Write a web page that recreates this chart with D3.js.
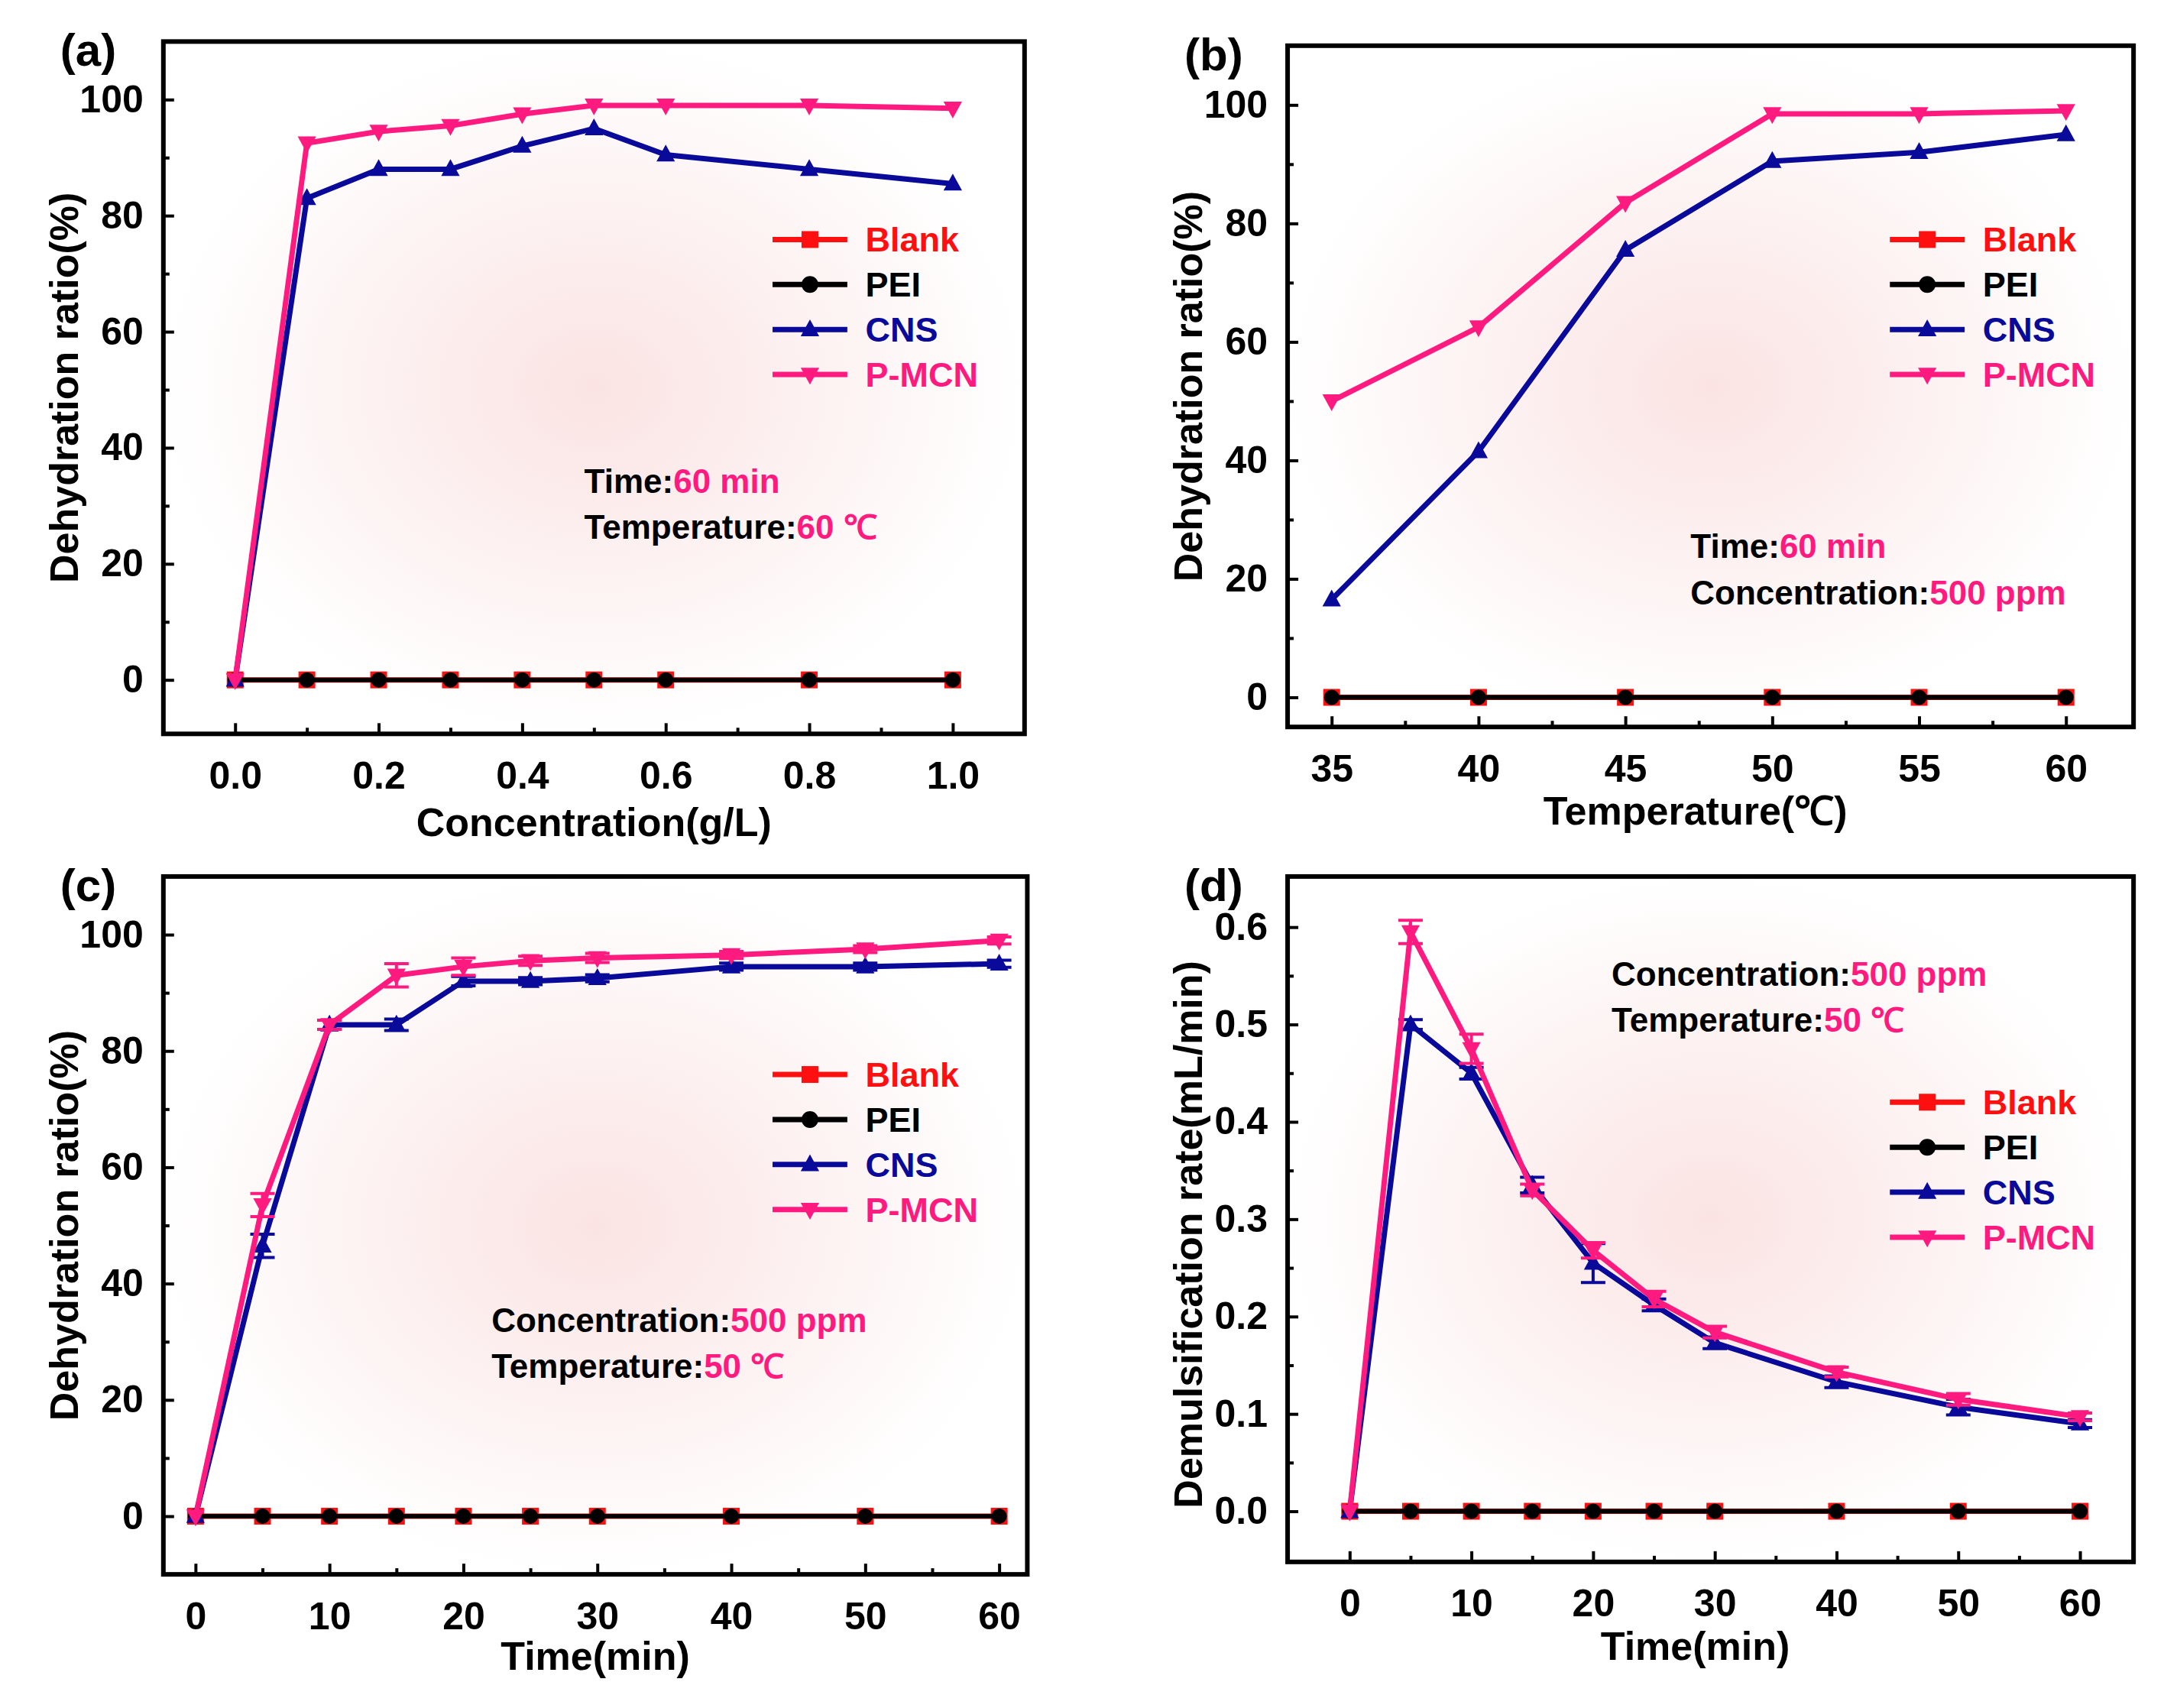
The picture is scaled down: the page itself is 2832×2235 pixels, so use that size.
<!DOCTYPE html><html><head><meta charset="utf-8">
<script src="https://cdn.jsdelivr.net/npm/d3@7"></script>
<style>body{margin:0;background:#fff}text{font-family:"Liberation Sans",Arial,sans-serif;font-weight:bold}</style></head><body>
<svg id="c" width="2832" height="2235"></svg>
<script>
const seriesNames=["Blank","PEI","CNS","P-MCN"];
const colors=["#ff1010","#000000","#0a0a9a","#ff1a80"];
const aX=[0,0.1,0.2,0.3,0.4,0.5,0.6,0.8,1.0];
const aCNS=[0,83,88,88,92,95,90.5,88,85.5];
const aPMCN=[0,92.5,94.5,95.5,97.5,99,99,99,98.5];
const aTicksX=[0,0.2,0.4,0.6,0.8,1.0];
const bX=[35,40,45,50,55,60];
const bCNS=[16.5,41.5,75.5,90.5,92,95];
const bPMCN=[50,62.5,83.5,98.5,98.5,99];
const cX=[0,5,10,15,20,25,30,40,50,60];
const cCNS=[0,46.5,84.5,84.5,92,92,92.5,94.5,94.5,95];
const cPMCN=[0,53.5,84.5,93,94.5,95.5,96,96.5,97.5,99];
const cErrC=[0,2,0.8,1,0.8,0.6,0.6,0.6,0.6,0.6];
const cErrP=[0,2,0.8,2,1.5,0.8,0.8,0.6,0.6,0.6];
const dX=[0,5,10,15,20,25,30,40,50,60];
const dCNS=[0,0.5,0.45,0.335,0.255,0.212,0.173,0.133,0.107,0.09];
const dPMCN=[0,0.595,0.475,0.33,0.268,0.218,0.184,0.143,0.115,0.097];
const dErrC=[0,0.005,0.006,0.008,0.02,0.006,0.006,0.006,0.008,0.004];
const dErrP=[0,0.012,0.015,0.006,0.008,0.008,0.006,0.005,0.006,0.004];
const S=2832/1563;
const svg=d3.select("#c");
const defs=svg.append("defs");
const rg=defs.append("radialGradient").attr("id","bg");
rg.append("stop").attr("offset","0%").attr("stop-color","#fbe3e3");
rg.append("stop").attr("offset","100%").attr("stop-color","#ffffff");
const panels=[
 {lab:"(a)",L:118,R:740,T:30,B:530,xd:[-0.1,1.1],yd:[-9.3,110],xs:aX,cns:aCNS,pm:aPMCN,xt:aTicksX,xm:[0.1,0.3,0.5,0.7,0.9],yt:[0,20,40,60,80,100],ym:[10,30,50,70,90],fmt:d3.format(".1f"),yf:d=>d,
  xl:"Concentration(g/L)",yl:"Dehydration ratio(%)",legX:558,legY:173,ann:[["Time:","60 min"],["Temperature:","60 ℃"]],annX:422,annY:347},
 {lab:"(b)",L:930,R:1541,T:33,B:525,xd:[33.5,62.3],yd:[-5,110],xs:bX,cns:bCNS,pm:bPMCN,xt:bX,xm:[37.5,42.5,47.5,52.5,57.5],yt:[0,20,40,60,80,100],ym:[10,30,50,70,90],fmt:d=>d,yf:d=>d,
  xl:"Temperature(℃)",yl:"Dehydration ratio(%)",legX:1365,legY:173,ann:[["Time:","60 min"],["Concentration:","500 ppm"]],annX:1221,annY:394},
 {lab:"(c)",L:118,R:742,T:633,B:1137,xd:[-2.4,62.1],yd:[-10,110],xs:cX,cns:cCNS,pm:cPMCN,ec:cErrC,ep:cErrP,xt:[0,10,20,30,40,50,60],xm:[5,15,25,35,45,55],yt:[0,20,40,60,80,100],ym:[10,30,50,70,90],fmt:d=>d,yf:d=>d,
  xl:"Time(min)",yl:"Dehydration ratio(%)",legX:558,legY:776,ann:[["Concentration:","500 ppm"],["Temperature:","50 ℃"]],annX:355,annY:953},
 {lab:"(d)",L:930,R:1541,T:633,B:1128,xd:[-5.1,64.4],yd:[-0.052,0.652],xs:dX,cns:dCNS,pm:dPMCN,ec:dErrC,ep:dErrP,xt:[0,10,20,30,40,50,60],xm:[5,15,25,35,45,55],yt:[0,0.1,0.2,0.3,0.4,0.5,0.6],ym:[0.05,0.15,0.25,0.35,0.45,0.55],fmt:d=>d,yf:d3.format(".1f"),
  xl:"Time(min)",yl:"Demulsification rate(mL/min)",legX:1365,legY:796,ann:[["Concentration:","500 ppm"],["Temperature:","50 ℃"]],annX:1164,annY:703}
];
function marker(g,i,x,y,r){
 if(i==0) g.append("rect").attr("x",x-r).attr("y",y-r).attr("width",2*r).attr("height",2*r).attr("fill",colors[0]);
 else if(i==1) g.append("circle").attr("cx",x).attr("cy",y).attr("r",r).attr("fill",colors[1]);
 else if(i==2) g.append("path").attr("d",`M${x},${y-r*1.2}L${x+r*1.1},${y+r*0.8}L${x-r*1.1},${y+r*0.8}Z`).attr("fill",colors[2]);
 else g.append("path").attr("d",`M${x},${y+r*1.2}L${x+r*1.1},${y-r*0.8}L${x-r*1.1},${y-r*0.8}Z`).attr("fill",colors[3]);
}
panels.forEach(p=>{
 const L=p.L*S,R=p.R*S,T=p.T*S,B=p.B*S;
 const x=d3.scaleLinear().domain(p.xd).range([L,R]);
 const y=d3.scaleLinear().domain(p.yd).range([B,T]);
 const g=svg.append("g");
 g.append("rect").attr("x",L).attr("y",T).attr("width",R-L).attr("height",B-T).attr("fill","url(#bg)");
 g.append("g").attr("transform",`translate(0,${B})`).call(d3.axisBottom(x).tickValues(p.xt).tickFormat(p.fmt).tickSize(-14).tickPadding(36));
 g.append("g").attr("transform",`translate(0,${B})`).call(d3.axisBottom(x).tickValues(p.xm).tickFormat("").tickSize(-8));
 g.append("g").attr("transform",`translate(${L},0)`).call(d3.axisLeft(y).tickValues(p.yt).tickFormat(p.yf).tickSize(-14).tickPadding(26));
 g.append("g").attr("transform",`translate(${L},0)`).call(d3.axisLeft(y).tickValues(p.ym).tickFormat("").tickSize(-8));
 g.selectAll(".domain").remove();
 g.selectAll(".tick line").attr("stroke","#000").attr("stroke-width",4);
 g.selectAll(".tick text").attr("font-size",50).attr("fill","#000").attr("font-family","Liberation Sans, Arial").attr("font-weight","bold");
 g.append("rect").attr("x",L).attr("y",T).attr("width",R-L).attr("height",B-T).attr("fill","none").attr("stroke","#000").attr("stroke-width",6);
 const zeros=p.xs.map(()=>0);
 const data=[zeros,zeros,p.cns,p.pm];
 const errs=[null,null,p.ec,p.ep];
 const line=d3.line().x(d=>x(d[0])).y(d=>y(d[1]));
 [0,1,2,3].forEach(i=>{
  const pts=p.xs.map((v,k)=>[v,data[i][k]]);
  g.append("path").attr("d",line(pts)).attr("fill","none").attr("stroke",colors[i]).attr("stroke-width",i==1?6:7);
  if(errs[i]) pts.forEach((pt,k)=>{const e=errs[i][k];if(!e)return;const cx=x(pt[0]);
    g.append("path").attr("d",`M${cx},${y(pt[1]-e)}V${y(pt[1]+e)}M${cx-16},${y(pt[1]-e)}h32M${cx-16},${y(pt[1]+e)}h32`).attr("stroke",colors[i]).attr("stroke-width",4).attr("fill","none");});
  pts.forEach(pt=>marker(g,i,x(pt[0]),y(pt[1]),i==1?10:11));
 });
 seriesNames.forEach((n,i)=>{
  const ly=(p.legY+i*32.5)*S, lx=p.legX*S;
  g.append("line").attr("x1",lx).attr("x2",lx+54*S).attr("y1",ly).attr("y2",ly).attr("stroke",colors[i]).attr("stroke-width",7);
  marker(g,i,lx+27*S,ly,11);
  g.append("text").attr("x",(p.legX+67)*S).attr("y",ly+16).attr("font-size",45).attr("fill",colors[i]).text(n);
 });
 p.ann.forEach((a,k)=>{
  const t=g.append("text").attr("x",p.annX*S).attr("y",(p.annY+k*33.5)*S+16).attr("font-size",44);
  t.append("tspan").attr("fill","#000").text(a[0]);
  t.append("tspan").attr("fill","#ff1a80").text(a[1]);
 });
 g.append("text").attr("x",(L+R)/2+(p.lab=="(b)"||p.lab=="(d)"?-20:0)).attr("y",B+(p.lab=="(a)"?134:p.lab=="(c)"?125:128)).attr("text-anchor","middle").attr("font-size",52).text(p.xl);
 g.append("text").attr("transform",`translate(${L-112},${(T+B)/2+(p.lab=="(d)"?20:0)}) rotate(-90)`).attr("text-anchor","middle").attr("font-size",52).text(p.yl);
 g.append("text").attr("x",L-135).attr("y",T+32).attr("font-size",60).attr("font-family","Liberation Serif, Times New Roman").text(p.lab);
});
</script></body></html>
